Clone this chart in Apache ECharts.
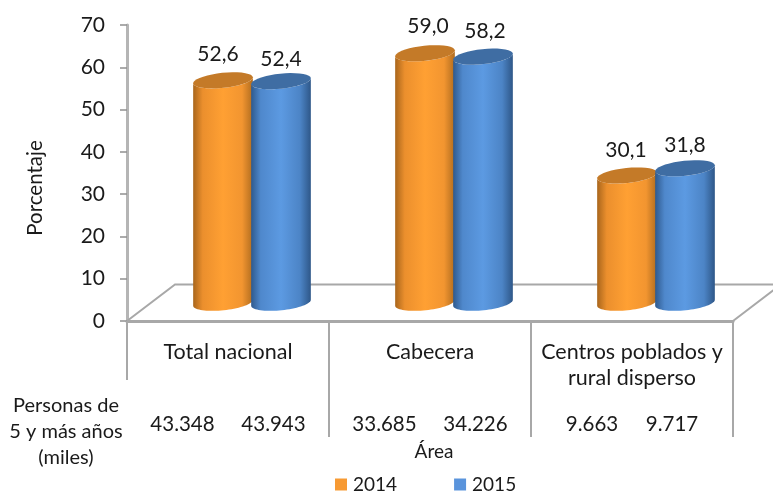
<!DOCTYPE html>
<html>
<head>
<meta charset="utf-8">
<style>html,body{margin:0;padding:0;background:#fff}#chart{width:773px;height:492px}</style>
<script src="https://cdn.jsdelivr.net/npm/echarts@6/dist/echarts.min.js"></script>
</head>
<body>
<div id="chart"></div>
<script>
var categories = ['Total nacional', 'Cabecera', 'Centros poblados y\nrural disperso'];
var values2014 = [52.6, 59.0, 30.1];
var values2015 = [52.4, 58.2, 31.8];
var personas2014 = ['43.348', '33.685', '9.663'];
var personas2015 = ['43.943', '34.226', '9.717'];
var yTicks = [0, 10, 20, 30, 40, 50, 60, 70];

var FONT = 'Lato, "Open Sans", sans-serif';
var TEXT = '#1a1a1a';
var LINE = '#a8a8a8';
// floor depth of the fake 3d box
var DEPTH_X = 48, DEPTH_Y = 36.5;
var RX = 30, RY = 7.5, TILT = 6 * Math.PI / 180;
// hand placed labels, as in the original
var shift2014 = [[-5, -26], [3, -27], [-1, -25]];
var shift2015 = [[0, -22], [2, -25], [0, -23]];
var personasGap = [45.5, 45.5, 40];

var orange = { main: '#F79A33', top: '#C47A28', stops: ['#A9661C', '#EB8F2D', '#FFA033', '#F29530', '#B06C1F'] };
var blue = { main: '#5A94DC', top: '#3F6DA3', stops: ['#2F5A8E', '#4F88CC', '#5C9AE2', '#4C84C6', '#2E5788'] };

// ellipse turned a little, left side lower
function ellipsePoints(cx, cy, from, to) {
    var pts = [];
    for (var k = 0; k <= 36; k++) {
        var t = from + (to - from) * k / 36;
        var ex = RX * Math.cos(t), ey = RY * Math.sin(t);
        pts.push([cx + ex * Math.cos(TILT) + ey * Math.sin(TILT), cy - ex * Math.sin(TILT) + ey * Math.cos(TILT)]);
    }
    return pts;
}

function cylinder(palette, side, shifts, personas) {
    return function (params, api) {
        var i = api.value(0);
        var top = api.coord([i, api.value(1)]);
        var base = api.coord([i, 0]);
        var cx = top[0] + DEPTH_X / 2 + side * 29;
        var topY = top[1] - DEPTH_Y / 2;
        var baseY = base[1] - DEPTH_Y / 2;
        var body = ellipsePoints(cx, baseY, Math.PI, 0).concat(ellipsePoints(cx, topY, 0, Math.PI));
        var s = palette.stops;
        var fill = new echarts.graphic.LinearGradient(0, 0, 1, 0, [
            { offset: 0, color: s[0] }, { offset: 0.16, color: s[1] }, { offset: 0.5, color: s[2] },
            { offset: 0.82, color: s[3] }, { offset: 1, color: s[4] }
        ]);
        var label = (side < 0 ? values2014 : values2015)[i].toFixed(1).replace('.', ',');
        return {
            type: 'group',
            children: [
                { type: 'polygon', shape: { points: body }, style: { fill: fill } },
                { type: 'polygon', shape: { points: ellipsePoints(cx, topY, 0, Math.PI * 2) }, style: { fill: palette.top } },
                {
                    type: 'text',
                    style: { text: label, x: cx + shifts[i][0], y: topY + shifts[i][1], fill: TEXT, font: '21px ' + FONT, align: 'center', verticalAlign: 'middle' }
                },
                {
                    type: 'text',
                    style: { text: personas[i], x: top[0] + side * personasGap[i], y: 424, fill: TEXT, font: '20.5px ' + FONT, align: 'center', verticalAlign: 'middle' }
                }
            ]
        };
    };
}

function renderFloor(params, api) {
    var c = params.coordSys;
    var y0 = c.y + c.height, x0 = c.x, x1 = c.x + c.width;
    var step = c.width / categories.length;
    var st = { stroke: LINE, lineWidth: 2, fill: null };
    function seg(a, b, d) {
        return { type: 'line', shape: { x1: a, y1: b, x2: a, y2: b + d }, style: st };
    }
    return {
        type: 'group',
        children: [
            { type: 'polyline', shape: { points: [[x0, y0], [x0 + DEPTH_X, y0 - DEPTH_Y], [x1 + DEPTH_X, y0 - DEPTH_Y], [x1, y0]] }, style: st },
            seg(x0, y0, 59),
            seg(x0 + step, y0, 116),
            seg(x0 + 2 * step, y0, 116),
            seg(x1, y0, 116)
        ]
    };
}

var chart = echarts.init(document.getElementById('chart'));
var option = {
    animation: false,
    backgroundColor: '#fff',
    textStyle: { fontFamily: FONT },
    grid: { left: 127, right: 40, top: 25, bottom: 171 },
    legend: {
        left: 335, top: 475, padding: 0,
        icon: 'rect', itemWidth: 12, itemHeight: 12, itemGap: 57,
        data: ['2014', '2015'],
        textStyle: { fontFamily: FONT, fontSize: 19, color: TEXT, padding: [4, 0, 0, 1] }
    },
    graphic: [{
        type: 'text', x: 66, y: 393,
        style: { text: 'Personas de\n5 y más años\n(miles)', font: '20px ' + FONT, lineHeight: 26, fill: TEXT, align: 'center' }
    }, {
        type: 'text', x: 434, y: 452,
        style: { text: 'Área', font: '19px ' + FONT, fill: TEXT, align: 'center', verticalAlign: 'middle' }
    }],
    xAxis: {
        type: 'category',
        data: categories,
        axisLine: { lineStyle: { color: LINE, width: 3 } },
        axisTick: { show: false },
        axisLabel: { interval: 0, margin: 18, fontFamily: FONT, fontSize: 21.5, color: TEXT, lineHeight: 26, verticalAlign: 'top' }
    },
    yAxis: {
        type: 'value',
        min: yTicks[0],
        max: yTicks[yTicks.length - 1],
        interval: 10,
        name: 'Porcentaje',
        nameLocation: 'middle',
        nameGap: 81,
        nameTextStyle: { fontFamily: FONT, fontSize: 20.5, color: TEXT, padding: [0, 30, 0, 0] },
        axisLine: { show: true, lineStyle: { color: '#b5b5b5', width: 3 } },
        axisTick: { show: true, length: 7, lineStyle: { color: '#909090', width: 1.5 } },
        axisLabel: { margin: 22, fontFamily: FONT, fontSize: 21, color: TEXT, padding: [5, 0, 0, 0] },
        splitLine: { show: false }
    },
    series: [
        { type: 'custom', name: 'floor', z: 1, renderItem: renderFloor, data: [[0, 0]], silent: true },
        {
            type: 'custom', name: '2014', z: 2,
            itemStyle: { color: orange.main },
            renderItem: cylinder(orange, -1, shift2014, personas2014),
            data: values2014.map(function (v, i) { return [i, v]; })
        },
        {
            type: 'custom', name: '2015', z: 3,
            itemStyle: { color: blue.main },
            renderItem: cylinder(blue, 1, shift2015, personas2015),
            data: values2015.map(function (v, i) { return [i, v]; })
        }
    ]
};
chart.setOption(option);
</script>
</body>
</html>
